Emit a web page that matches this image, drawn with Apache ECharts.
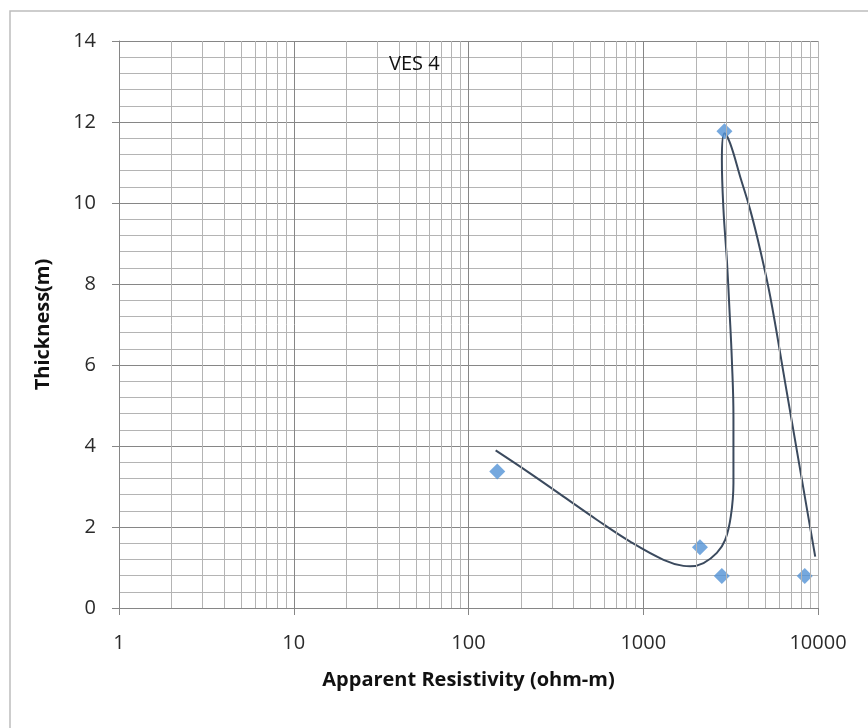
<!DOCTYPE html>
<html>
<head>
<meta charset="utf-8">
<script src="https://cdn.jsdelivr.net/npm/echarts@6/dist/echarts.min.js"></script>
<style>
  html, body { margin: 0; padding: 0; background: #fff; }
  #chart { width: 868px; height: 728px; }
</style>
</head>
<body>
<div id="chart"></div>
<script>
// measured points (resistivity, thickness)
var pointRes = [146, 2110, 2815, 8400, 2915];
var pointThk = [3.37, 1.5, 0.79, 0.79, 11.77];

// trend curve, in drawing order
var curveRes = [143, 224, 350, 542, 841, 1306, 1698, 1855, 2213, 2637, 2943, 3170, 3282, 3282, 3214, 3115, 3010, 2879, 2818, 2917,
  3143, 3586, 4093, 4670, 5329, 6490, 7909, 9640];
var curveThk = [3.89, 3.33, 2.75, 2.18, 1.64, 1.19, 1.04, 1.03, 1.11, 1.36, 1.68, 2.26, 3.08, 4.73, 6.13, 7.36, 8.59, 9.82, 11.06, 11.72,
  11.47, 10.65, 9.83, 8.84, 7.69, 5.56, 3.41, 1.27];

// minor log grid values between decades
var minorX = [2, 3, 4, 5, 6, 7, 8, 9, 20, 30, 40, 50, 60, 70, 80, 90,
  200, 300, 400, 500, 600, 700, 800, 900, 2000, 3000, 4000, 5000, 6000, 7000, 8000, 9000, 10000];

var chart = echarts.init(document.getElementById('chart'));

var font = '"Open Sans", "Liberation Sans", sans-serif';

var option = {
  animation: false,
  backgroundColor: '#fff',
  title: {
    text: 'VES 4',
    left: 384,
    top: 49,
    textStyle: { fontFamily: font, fontSize: 20, fontWeight: 'normal', color: '#111' }
  },
  graphic: [{
    type: 'rect',
    shape: { x: 10, y: 11, width: 880, height: 740 },
    style: { fill: 'none', stroke: '#bdbdbd', lineWidth: 1.5 },
    silent: true
  }],
  grid: { left: 119, right: 50, top: 41, bottom: 120 },
  xAxis: {
    type: 'log',
    logBase: 10,
    min: 1,
    max: 10000,
    name: 'Apparent Resistivity (ohm-m)',
    nameLocation: 'middle',
    nameGap: 62,
    nameTextStyle: { fontFamily: font, fontSize: 20, fontWeight: 'bold', color: '#111' },
    axisLine: { show: true, lineStyle: { color: '#868686', width: 1 } },
    axisTick: { show: true, length: 7, lineStyle: { color: '#868686' } },
    axisLabel: {
      fontFamily: font, fontSize: 20, color: '#2a2a2a', margin: 25,
      formatter: function (v) { return String(Math.round(v)); }
    },
    splitLine: { show: true, lineStyle: { color: '#868686', width: 1 } }
  },
  yAxis: {
    type: 'value',
    min: 0,
    max: 14,
    interval: 2,
    name: 'Thickness(m)',
    nameLocation: 'middle',
    nameGap: 66,
    nameTextStyle: { fontFamily: font, fontSize: 20, fontWeight: 'bold', color: '#111' },
    axisLine: { show: true, lineStyle: { color: '#868686', width: 1 } },
    axisTick: { show: true, length: 7, lineStyle: { color: '#868686' } },
    axisLabel: { fontFamily: font, fontSize: 20, color: '#2a2a2a', margin: 23 },
    splitLine: { show: true, lineStyle: { color: '#868686', width: 1 } },
    minorTick: { show: false, splitNumber: 5 },
    minorSplitLine: { show: true, lineStyle: { color: '#b4b4b4', width: 1 } }
  },
  series: [
    {
      // minor vertical grid lines
      type: 'line',
      data: [],
      z: 1,
      silent: true,
      markLine: {
        silent: true,
        symbol: 'none',
        animation: false,
        label: { show: false },
        lineStyle: { color: '#b4b4b4', width: 1, type: 'solid' },
        data: minorX.map(function (v) { return { xAxis: v }; })
      }
    },
    {
      type: 'line',
      smooth: 0.4,
      showSymbol: false,
      z: 3,
      lineStyle: { color: '#3b4a5e', width: 2 },
      data: curveRes.map(function (v, i) { return [v, curveThk[i]]; })
    },
    {
      type: 'scatter',
      symbol: 'diamond',
      symbolSize: 16,
      z: 4,
      itemStyle: { color: '#5292d6' },
      data: pointRes.map(function (v, i) { return [v, pointThk[i]]; })
    }
  ]
};

chart.setOption(option);
</script>
</body>
</html>
